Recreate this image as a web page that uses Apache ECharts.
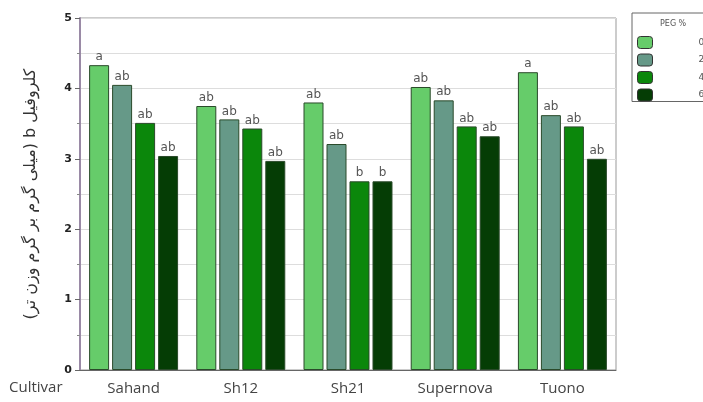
<!DOCTYPE html>
<html><head><meta charset="utf-8">
<script src="https://cdn.jsdelivr.net/npm/echarts@6/dist/echarts.min.js"></script>
<style>html,body{margin:0;padding:0;background:#fff}#c{width:703px;height:402px}</style>
</head><body><div id="c"></div>
<script>
const categories = ['Sahand', 'Sh12', 'Sh21', 'Supernova', 'Tuono'];
const pegLevels = ['0', '2', '4', '6'];
const peg0 = [4.33, 3.75, 3.80, 4.02, 4.23];
const peg2 = [4.05, 3.56, 3.21, 3.83, 3.62];
const peg4 = [3.51, 3.43, 2.68, 3.46, 3.46];
const peg6 = [3.04, 2.97, 2.68, 3.32, 3.00];
const letters0 = ['a', 'ab', 'ab', 'ab', 'a'];
const letters2 = ['ab', 'ab', 'ab', 'ab', 'ab'];
const letters4 = ['ab', 'ab', 'b', 'ab', 'ab'];
const letters6 = ['ab', 'ab', 'b', 'ab', 'ab'];
const yTicks = [0, 1, 2, 3, 4, 5];

const colors = ['#66cc6a', '#669988', '#0b870b', '#053d05'];
const values = [peg0, peg2, peg4, peg6];
const letters = [letters0, letters2, letters4, letters6];

const chart = echarts.init(document.getElementById('c'));
chart.setOption({
  animation: false,
  grid: {left: 80, right: 87, top: 18, bottom: 32, show: true, borderColor: '#999', borderWidth: 1},
  legend: {
    orient: 'vertical', left: 632, top: 13, padding: [23, 20, 0, 5],
    borderColor: '#666', borderWidth: 1, itemWidth: 15, itemHeight: 12, itemGap: 4.5,
    data: pegLevels.map(p => ({name: p, itemStyle: {borderColor: '#333', borderWidth: 1}})),
    formatter: n => '{t|' + n + '}',
    textStyle: {rich: {t: {padding: [0, 0, 0, 41], fontSize: 9, color: '#555', fontFamily: 'DejaVu Sans'}}}
  },
  graphic: [
    {type: 'text', left: 660, top: 20, style: {text: 'PEG %', fontSize: 8, fill: '#555', fontFamily: 'DejaVu Sans'}},
    {type: 'text', left: 9, top: 380, style: {text: 'Cultivar', fontSize: 15, fill: '#444', fontFamily: 'Open Sans'}}
  ],
  xAxis: {
    type: 'category', data: categories,
    axisLine: {lineStyle: {color: '#666'}},
    axisTick: {show: false},
    axisLabel: {fontSize: 15, color: '#444', fontFamily: 'Open Sans', margin: 11}
  },
  yAxis: {
    type: 'value', min: 0, max: 5, interval: 1,
    name: '\u202Bکلروفیل b (میلی گرم بر گرم وزن تر)\u202C',
    nameLocation: 'middle', nameGap: 41, nameRotate: 90,
    nameTextStyle: {fontSize: 16, color: '#333', fontFamily: 'DejaVu Sans'},
    axisLine: {show: true, lineStyle: {color: '#9a8aa6', width: 2}},
    axisTick: {show: true, length: 5, lineStyle: {color: '#666'}},
    minorTick: {show: true, splitNumber: 2, length: 3, lineStyle: {color: '#888'}},
    axisLabel: {fontSize: 11, fontWeight: 'bold', color: '#222', fontFamily: 'DejaVu Sans', margin: 8},
    splitLine: {show: true, lineStyle: {color: '#ddd'}},
    minorSplitLine: {show: true, lineStyle: {color: '#ddd'}}
  },
  series: pegLevels.map((p, i) => ({
    name: p, type: 'bar',
    data: values[i].map((v, j) => ({value: v, label: {formatter: letters[i][j]}})),
    barGap: '15%', barCategoryGap: '17%',
    itemStyle: {color: colors[i], borderColor: '#2a4a2a', borderWidth: 1},
    label: {show: true, position: 'top', distance: 2, fontSize: 12, color: '#555', fontFamily: 'DejaVu Sans'}
  }))
});
</script></body></html>
